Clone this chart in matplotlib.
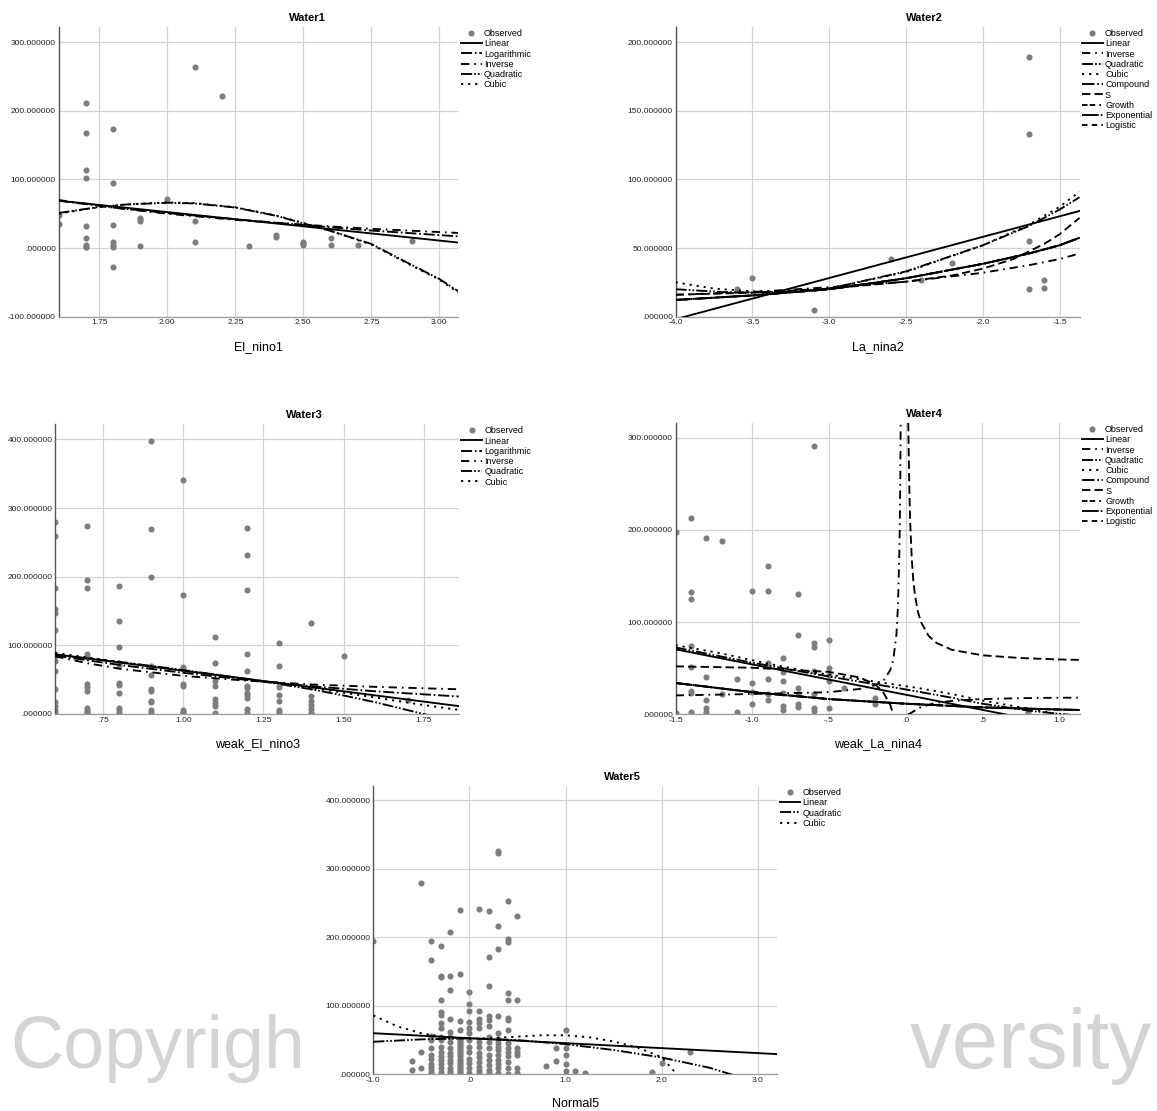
import numpy as np
import matplotlib
matplotlib.use("Agg")
import matplotlib.pyplot as plt
from matplotlib.lines import Line2D
from matplotlib.patches import Rectangle

plt.rcParams['font.family'] = ['Liberation Sans', 'DejaVu Sans']
plt.rcParams['lines.scale_dashes'] = False

FIG_W, FIG_H = 1157, 1111
nan = np.nan

# ---------------- Water1 vs El_nino1 ----------------
w1_x = [1.6, 1.6,
        1.7, 1.7, 1.7, 1.7, 1.7, 1.7, 1.7, 1.7, 1.7,
        1.8, 1.8, 1.8, 1.8, 1.8, 1.8, 1.8,
        1.9, 1.9, 1.9, 1.9,
        2.0,
        2.1, 2.1, 2.1,
        2.2, 2.3, 2.4, 2.4,
        2.5, 2.5, 2.5,
        2.6, 2.6, 2.7, 2.9]
w1_y = [48, 35,
        212, 167, 113, 102, 32, 15, 4, 2, 1,
        173, 95, 34, 9, 4, 1.5, -28,
        44, 42, 39, 3,
        72,
        264, 39, 9,
        222, 3.5, 19, 16,
        9, 7, 5,
        14, 4, 5, 10]
w1_fits = {
    "Linear": ([1.6, 3.07], [69, 8]),
    "Logarithmic": ([1.6, 1.8, 2.0, 2.25, 2.5, 2.75, 3.07], [69, 59, 51, 42, 33.5, 25.5, 17]),
    "Inverse": ([1.6, 1.8, 2.0, 2.25, 2.5, 2.75, 3.07], [70, 59, 50, 41, 34, 28, 22]),
    "Quadratic": ([1.6, 1.7, 1.75, 1.85, 2.0, 2.1, 2.25, 2.4, 2.5, 2.6, 2.75, 2.9, 3.0, 3.07],
                  [51, 57, 60, 63.5, 66, 65, 59, 47, 36, 25, 6, -25, -45, -63]),
    "Cubic": ([1.6, 1.7, 1.75, 1.85, 2.0, 2.1, 2.25, 2.4, 2.5, 2.6, 2.75, 2.9, 3.0, 3.07],
              [50, 56.5, 59.5, 63.5, 66.5, 65.5, 59.5, 47.5, 36.5, 25, 5, -26, -46, -65]),
}

# ---------------- Water2 vs La_nina2 ----------------
w2_x = [-3.6, -3.5, -3.1, -2.6, -2.4, -2.2, -1.7, -1.7, -1.7, -1.7, -1.6, -1.6]
w2_y = [20.5, 28, 5, 42, 27, 39, 189, 133, 55, 20, 26.5, 21]
w2_exp_x = [-4.0, -3.5, -3.0, -2.5, -2.0, -1.7, -1.5, -1.37]
w2_exp_y = [12.2, 15.5, 20, 28, 38.5, 46, 52, 57.5]
w2_fits = {
    "Linear": ([-4.0, -1.37], [-1.8, 77]),
    "Inverse": ([-4.0, -3.5, -3.0, -2.5, -2.0, -1.7, -1.5, -1.37], [16, 18, 21.5, 25.5, 32, 37.5, 42, 46]),
    "Quadratic": ([-4.0, -3.7, -3.5, -3.2, -3.0, -2.5, -2.0, -1.7, -1.5, -1.37],
                  [20, 18, 17.5, 18.5, 20.5, 33, 52, 66, 78, 87]),
    "Cubic": ([-4.0, -3.75, -3.5, -3.25, -3.0, -2.5, -2.0, -1.7, -1.5, -1.37],
              [25, 20.5, 18.5, 18.5, 20.5, 32.5, 52, 67, 80, 91]),
    "Compound": (w2_exp_x, w2_exp_y),
    "S": ([-4.0, -3.5, -3.0, -2.5, -2.2, -2.0, -1.8, -1.6, -1.5, -1.37],
          [16, 17.5, 20.5, 25.5, 30, 35, 42, 53, 60, 72]),
    "Growth": (w2_exp_x, w2_exp_y),
    "Exponential": (w2_exp_x, w2_exp_y),
    "Logistic": (w2_exp_x, w2_exp_y),
}

# ---------------- Water3 vs weak_El_nino3 ----------------
w3_cols = {
    0.6: [280, 260, 184, 153, 147, 122, 84, 77, 63, 37, 18, 11, 6, 2],
    0.7: [274, 195, 183, 87, 83, 43, 40, 33, 9, 6, 3, 1],
    0.8: [186, 136, 98, 75, 72, 45, 42, 31, 9, 6, 2],
    0.9: [397, 269, 200, 70, 57, 36, 33, 19, 17, 6, 2],
    1.0: [341, 174, 68, 43, 41, 6, 3, 1],
    1.1: [112, 75, 48, 41, 22, 16, 12, 2],
    1.2: [271, 232, 180, 87, 63, 41, 38, 31, 27, 24, 8, 2],
    1.3: [103, 70, 40, 27, 19, 6, 3],
    1.4: [132, 40, 26, 19, 13, 7, 2, 0],
    1.5: [84],
    1.7: [20],
}
w3_fits = {
    "Linear": ([0.6, 1.86], [87, 11.5]),
    "Logarithmic": ([0.6, 0.8, 1.0, 1.2, 1.4, 1.6, 1.86], [85, 71.5, 60, 49.5, 40.5, 33, 25.5]),
    "Inverse": ([0.6, 0.7, 0.8, 1.0, 1.2, 1.4, 1.6, 1.86], [84, 74, 66, 55.5, 48.5, 43, 39.5, 36]),
    "Quadratic": ([0.6, 0.8, 1.0, 1.2, 1.4, 1.5, 1.6, 1.75, 1.86], [86, 76, 64, 51, 36, 27, 17, 0, -13]),
    "Cubic": ([0.6, 0.8, 1.0, 1.2, 1.4, 1.5, 1.6, 1.75, 1.86], [89, 76, 63, 51, 38, 31, 24, 13, 6]),
}

# ---------------- Water4 vs weak_La_nina4 ----------------
w4_cols = {
    -1.5: [198, 1.5],
    -1.4: [213, 133, 125, 74.5, 51.5, 25, 23, 3],
    -1.3: [191, 40, 15, 7, 3],
    -1.2: [188, 22],
    -1.1: [38, 3],
    -1.0: [134, 33.5, 24, 11],
    -0.9: [161, 134, 56, 38, 22.5, 16],
    -0.8: [61.5, 46, 36, 23, 9.5, 5],
    -0.7: [131, 86, 28, 22, 11.5, 7.5],
    -0.6: [291, 77, 73.5, 46.5, 21.5, 6.5, 3.5],
    -0.5: [80.5, 50.5, 43, 36, 6.5],
    -0.4: [29],
    -0.2: [18, 11],
    0.8: [2],
}
w4_exp_x = [-1.5, -1.0, -0.5, 0.0, 0.5, 1.0, 1.134]
w4_exp_y = [34, 24, 16.5, 11.5, 7.5, 5.2, 4.7]
w4_fits = {
    "Linear": ([-1.5, 1.134], [70.5, -16]),
    "Inverse": ([-1.5, -1.0, -0.5, -0.3, -0.2, -0.15, -0.1, -0.08, -0.06, -0.05, -0.04, -0.035, -0.03, nan,
                 0.015, 0.03, 0.05, 0.1, 0.2, 0.3, 0.5, 0.75, 1.0, 1.134],
                [20.5, 22, 24, 27.5, 31.5, 35, 48, 60, 87, 118, 186, 255, 390, nan,
                 0, 1, 3, 8, 12.5, 14.5, 16.5, 17.5, 18, 18]),
    "Quadratic": ([-1.5, -1.0, -0.5, 0.0, 0.3, 0.5, 0.8, 1.0, 1.134],
                  [72.5, 56, 41, 27, 18, 11.5, 4, 0.5, -1.5]),
    "Cubic": ([-1.5, -1.2, -0.9, -0.6, -0.3, -0.1, 0.1, 0.3, 0.5, 0.7, 0.9, 1.0, 1.134],
              [75, 66, 55, 45.5, 38, 33, 28, 22, 15, 9, 3, 0, -4]),
    "Compound": (w4_exp_x, w4_exp_y),
    "S": ([-1.5, -1.0, -0.5, -0.3, -0.2, -0.15, -0.1, -0.08, nan,
           0.017, 0.02, 0.025, 0.03, 0.04, 0.05, 0.06, 0.08, 0.1, 0.15, 0.2, 0.3, 0.5, 0.75, 1.0, 1.134],
          [52, 50.5, 46, 40, 32.5, 25, 10, -1, nan,
           316, 281, 236, 206, 168, 145, 130, 111, 100, 85, 77.5, 70, 64, 61, 59.5, 59]),
    "Growth": (w4_exp_x, w4_exp_y),
    "Exponential": (w4_exp_x, w4_exp_y),
    "Logistic": (w4_exp_x, w4_exp_y),
}

# ---------------- Water5 vs Normal5 ----------------
w5_cols = {
    -1.0: [194],
    -0.6: [19, 6],
    -0.5: [280, 32.5, 9],
    -0.4: [195, 167, 56, 50, 39, 28, 23, 15, 11, 6, 2.5, 0],
    -0.3: [188, 143.5, 142, 108, 91, 86, 75, 68, 55, 50, 40, 33, 26, 21, 15, 9, 3.5],
    -0.2: [208.5, 143.5, 122.7, 81, 62, 55, 47.5, 38, 30.5, 26, 21, 16, 9, 5, 1.5],
    -0.1: [240, 147, 77.6, 64.5, 50, 47, 44, 41, 38, 35, 32, 29, 26, 23, 20, 17, 14, 11, 8, 5, 2, 0],
    0.0: [120, 103, 93, 76.7, 67, 60, 50, 40, 33, 23, 16, 9, 2.5],
    0.1: [241, 92.7, 81, 75, 68, 47.5, 40, 30.5, 25, 18.4, 11, 6, 1.5],
    0.2: [239, 171, 129, 85, 79, 70, 54, 47.5, 38, 28, 21, 13.6, 6, 1.5],
    0.3: [326, 323, 217, 183, 85, 60.6, 52, 45, 40, 35.4, 28, 21, 15, 9, 2.5],
    0.4: [253, 198, 193, 119, 109, 82.5, 79, 64.5, 45, 39, 33, 26, 18.4, 9, 1],
    0.5: [231, 109, 39, 33, 28, 9, 1.5],
    0.8: [12],
    0.9: [38, 20],
    1.0: [64.5, 38, 28, 15, 5],
    1.1: [5.3],
    1.2: [1.5],
    1.9: [3],
    2.0: [17],
    2.3: [33],
}
w5_fits = {
    "Linear": ([-1.0, 3.2], [60, 29.5]),
    "Quadratic": ([-1.0, -0.5, 0.0, 0.5, 1.0, 1.5, 2.0, 2.5, 2.72, 3.2],
                  [47.5, 51, 52.5, 50, 44, 35.5, 24.5, 9.5, 0, -22]),
    "Cubic": ([-1.0, -0.75, -0.5, -0.25, 0.0, 0.25, 0.5, 0.75, 1.0, 1.25, 1.5, 1.75, 2.0, 2.14, 2.2],
              [86, 70, 60, 54, 52, 53, 55, 57, 57, 54, 48, 39, 25, 3, -10]),
}

# Axis ticks and labels
w1_xticks = [1.75, 2.0, 2.25, 2.5, 2.75, 3.0]
w1_xlabels = ["1.75", "2.00", "2.25", "2.50", "2.75", "3.00"]
w1_yticks = [-100, 0, 100, 200, 300]
w2_xticks = [-4.0, -3.5, -3.0, -2.5, -2.0, -1.5]
w2_xlabels = ["-4.0", "-3.5", "-3.0", "-2.5", "-2.0", "-1.5"]
w2_yticks = [0, 50, 100, 150, 200]
w3_xticks = [0.75, 1.0, 1.25, 1.5, 1.75]
w3_xlabels = [".75", "1.00", "1.25", "1.50", "1.75"]
w3_yticks = [0, 100, 200, 300, 400]
w4_xticks = [-1.5, -1.0, -0.5, 0.0, 0.5, 1.0]
w4_xlabels = ["-1.5", "-1.0", "-.5", ".0", ".5", "1.0"]
w4_yticks = [0, 100, 200, 300]
w5_xticks = [-1.0, 0.0, 1.0, 2.0, 3.0]
w5_xlabels = ["-1.0", ".0", "1.0", "2.0", "3.0"]
w5_yticks = [0, 100, 200, 300, 400]

LINE_STYLES = {
    "Linear": "-",
    "Logarithmic": (0, (8, 2, 1.2, 2)),
    "Inverse": (0, (6, 3.5, 1.2, 3.5)),
    "Quadratic": (0, (8, 1.5, 1.2, 1.5, 1.2, 1.5)),
    "Cubic": (0, (1.6, 3.5)),
    "Compound": (0, (9, 2, 1.2, 2)),
    "S": (0, (6, 3)),
    "Growth": (0, (4, 1.5, 4, 3, 1.2, 3)),
    "Exponential": (0, (12, 1.5, 1.2, 1.5)),
    "Logistic": (0, (4, 3)),
}
PT_COLOR = "#7d7d7d"


def fx(px):
    return px / FIG_W


def fy(py):
    return 1 - py / FIG_H


def fmt_y(v):
    s = "%.6f" % v
    if s.startswith("0."):
        s = s[1:]
    return s


def flatten(cols):
    xs, ys = [], []
    for x, vals in cols.items():
        xs += [x] * len(vals)
        ys += vals
    return xs, ys


fig = plt.figure(figsize=(FIG_W / 100, FIG_H / 100), dpi=100)

# faint page watermark behind the lower chart
fig.text(fx(10), fy(1068), "Copyright", fontsize=53, color="#d4d4d4", ha="left",
         va="baseline", zorder=-3)
fig.text(fx(1152), fy(1068), "University", fontsize=60, color="#d4d4d4", ha="right",
         va="baseline", zorder=-3)
fig.patches.append(Rectangle((fx(300), fy(1111)), fx(907) - fx(300), fy(760) - fy(1111),
                             transform=fig.transFigure, facecolor="white",
                             edgecolor="none", zorder=-2))

panels = [
    dict(box=(58.5, 27, 458.4, 316.7), title="Water1", xlabel="El_nino1",
         pts=(w1_x, w1_y), fits=w1_fits, xlim=(1.6, 3.07), ylim=(-100, 322),
         xt=w1_xticks, xl=w1_xlabels, yt=w1_yticks),
    dict(box=(675.6, 27, 1079.5, 316.7), title="Water2", xlabel="La_nina2",
         pts=(w2_x, w2_y), fits=w2_fits, xlim=(-4.0, -1.37), ylim=(0, 211),
         xt=w2_xticks, xl=w2_xlabels, yt=w2_yticks),
    dict(box=(55.3, 424.3, 458.8, 714), title="Water3", xlabel="weak_El_nino3",
         pts=flatten(w3_cols), fits=w3_fits, xlim=(0.6, 1.86), ylim=(0, 422),
         xt=w3_xticks, xl=w3_xlabels, yt=w3_yticks),
    dict(box=(675.6, 423, 1079.6, 714.3), title="Water4", xlabel="weak_La_nina4",
         pts=flatten(w4_cols), fits=w4_fits, xlim=(-1.5, 1.134), ylim=(0, 316),
         xt=w4_xticks, xl=w4_xlabels, yt=w4_yticks),
    dict(box=(373.3, 786, 777, 1074.3), title="Water5", xlabel="Normal5",
         pts=flatten(w5_cols), fits=w5_fits, xlim=(-1.0, 3.2), ylim=(0, 421),
         xt=w5_xticks, xl=w5_xlabels, yt=w5_yticks),
]

for p in panels:
    l, t, r, b = p["box"]
    ax = fig.add_axes([fx(l), fy(b), fx(r) - fx(l), fy(t) - fy(b)])
    ax.set_facecolor("white")
    xs, ys = p["pts"]
    ax.plot(xs, ys, ls="none", marker="o", ms=4.4, color=PT_COLOR, mec="none", zorder=2)
    for name, (cx, cy) in p["fits"].items():
        ax.plot(cx, cy, color="black", lw=1.35, ls=LINE_STYLES[name], zorder=3)
    ax.set_xlim(*p["xlim"])
    ax.set_ylim(*p["ylim"])
    ax.set_xticks(p["xt"], labels=p["xl"])
    ax.set_yticks(p["yt"], labels=[fmt_y(v) for v in p["yt"]])
    ax.grid(True, color="#d3d3d3", lw=0.9)
    ax.set_axisbelow(True)
    for side in ("top", "right"):
        ax.spines[side].set_visible(False)
    ax.spines["left"].set_color("#555555")
    ax.spines["left"].set_linewidth(1.0)
    ax.spines["bottom"].set_color("#9a9a9a")
    ax.spines["bottom"].set_linewidth(0.9)
    ax.tick_params(length=0, labelsize=6, pad=2, labelcolor="#222222")

    fig.text(fx(l + 249), fy(t - 9), p["title"], ha="center", va="center",
             fontsize=8, fontweight="bold")
    fig.text(fx((l + r) / 2), fy(b + 30), p["xlabel"], ha="center", va="center",
             fontsize=9)

    names = list(p["fits"].keys())
    handles = [Line2D([], [], ls="none", marker="o", ms=4.4, color=PT_COLOR, mec="none")]
    handles += [Line2D([], [], color="black", lw=1.35, ls=LINE_STYLES[n]) for n in names]
    ax.legend(handles, ["Observed"] + names, loc="upper left",
              bbox_to_anchor=(fx(r + 2.5), fy(t + 2)), bbox_transform=fig.transFigure,
              frameon=False, fontsize=6.5, handlelength=2.3, handletextpad=0.25,
              labelspacing=0.14, borderpad=0.0, borderaxespad=0.0)

fig.savefig("out.png", dpi=100, facecolor="white")
